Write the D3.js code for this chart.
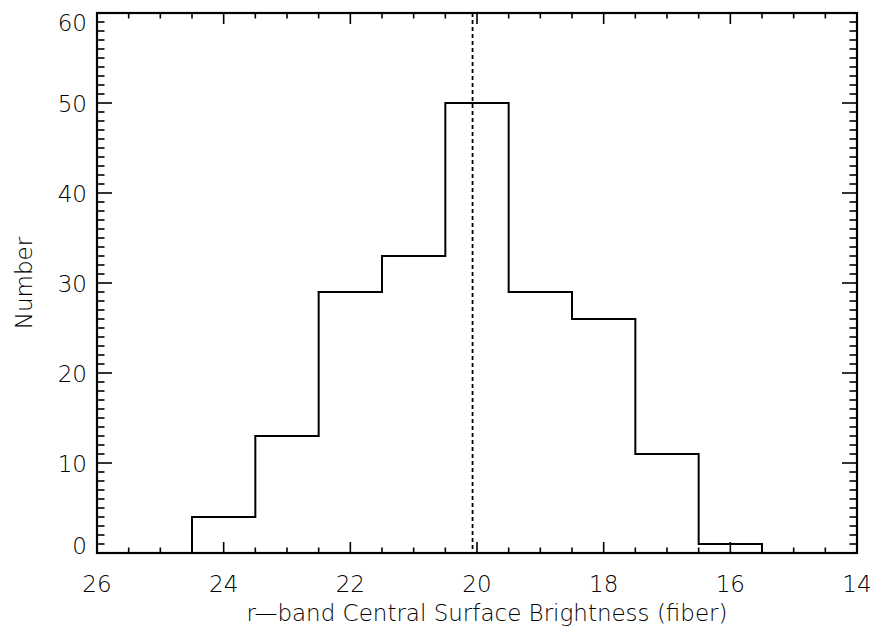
<!DOCTYPE html>
<html>
<head>
<meta charset="utf-8">
<script src="https://cdn.jsdelivr.net/npm/d3@7"></script>
<style>
  body { margin: 0; background: #fff; }
  svg { display: block; }
  text { font-family: "DejaVu Sans", sans-serif; font-weight: 200; fill: #000; }
</style>
</head>
<body>
<svg id="chart" width="877" height="632"></svg>
<script>
// histogram bins (edges in mag, bright end to the right) and counts
const binEdges = [25.5, 24.5, 23.5, 22.5, 21.5, 20.5, 19.5, 18.5, 17.5, 16.5, 15.5];
const counts = [0, 4, 13, 29, 33, 50, 29, 26, 11, 1];
const medianLine = 20.07;
const xTicks = [26, 24, 22, 20, 18, 16, 14];
const yTicks = [0, 10, 20, 30, 40, 50, 60];

const margins = { left: 97, right: 20, top: 13, bottom: 79 };
const W = 877, H = 632;
const width = W - margins.left - margins.right;
const height = H - margins.top - margins.bottom;

const svg = d3.select("#chart");
const g = svg.append("g").attr("transform", `translate(${margins.left},${margins.top})`);

const x = d3.scaleLinear().domain([26, 14]).range([0, width]);
const y = d3.scaleLinear().domain([0, 60]).range([height, 0]);

// step outline of the histogram
const steps = [];
counts.forEach((c, i) => {
  steps.push([binEdges[i], c]);
  steps.push([binEdges[i + 1], c]);
});
steps.push([binEdges[binEdges.length - 1], 0]);

const line = d3.line().x((d) => x(d[0])).y((d) => y(d[1]));

g.append("path")
  .datum(steps)
  .attr("d", line)
  .style("fill", "none")
  .style("stroke", "#000")
  .style("stroke-width", 2);

// dotted line
g.append("line")
  .attr("x1", x(medianLine)).attr("x2", x(medianLine))
  .attr("y1", 0).attr("y2", height)
  .style("stroke", "#000")
  .style("stroke-width", 1.8)
  .style("stroke-dasharray", "4,3");

// ticks on all four sides
const xMinor = d3.range(26, 13.99, -0.5);
const yMinor = d3.range(0, 60.01, 1);
const tickG = g.append("g").style("stroke", "#000").style("stroke-width", 1.6);

const isXMajor = (v) => Math.abs(v % 2) < 1e-6;
const isYMajor = (v) => Math.abs(v % 10) < 1e-6;

tickG.selectAll("line.xb").data(xMinor).join("line").attr("class", "xb")
  .attr("x1", (d) => x(d)).attr("x2", (d) => x(d))
  .attr("y1", height).attr("y2", (d) => height - (isXMajor(d) ? 11 : 5.5));
tickG.selectAll("line.xt").data(xMinor).join("line").attr("class", "xt")
  .attr("x1", (d) => x(d)).attr("x2", (d) => x(d))
  .attr("y1", 0).attr("y2", (d) => (isXMajor(d) ? 11 : 5.5));
tickG.selectAll("line.yl").data(yMinor).join("line").attr("class", "yl")
  .attr("y1", (d) => y(d)).attr("y2", (d) => y(d))
  .attr("x1", 0).attr("x2", (d) => (isYMajor(d) ? 15 : 7.5));
tickG.selectAll("line.yr").data(yMinor).join("line").attr("class", "yr")
  .attr("y1", (d) => y(d)).attr("y2", (d) => y(d))
  .attr("x1", width).attr("x2", (d) => width - (isYMajor(d) ? 15 : 7.5));

// frame
g.append("rect")
  .attr("width", width).attr("height", height)
  .style("fill", "none").style("stroke", "#000").style("stroke-width", 2.2);

// tick labels
g.selectAll("text.xl").data(xTicks).join("text").attr("class", "xl")
  .attr("x", (d) => x(d)).attr("y", height + 39)
  .attr("text-anchor", "middle")
  .style("font-size", "23px")
  .text((d) => d);

const yShift = (d) => (d === 60 ? 10 : d === 0 ? -7 : 1);
g.selectAll("text.yl").data(yTicks).join("text").attr("class", "yl")
  .attr("x", -10).attr("y", (d) => y(d) + yShift(d))
  .attr("text-anchor", "end")
  .attr("dominant-baseline", "central")
  .style("font-size", "23px")
  .text((d) => d);

// axis titles
svg.append("text")
  .attr("x", margins.left + width / 2 + 10).attr("y", 621)
  .attr("text-anchor", "middle")
  .style("font-size", "23px")
  .text("r\u2014band Central Surface Brightness (fiber)");

svg.append("text")
  .attr("transform", `translate(32,${margins.top + height / 2}) rotate(-90)`)
  .attr("text-anchor", "middle")
  .style("font-size", "23px")
  .text("Number");
</script>
</body>
</html>
